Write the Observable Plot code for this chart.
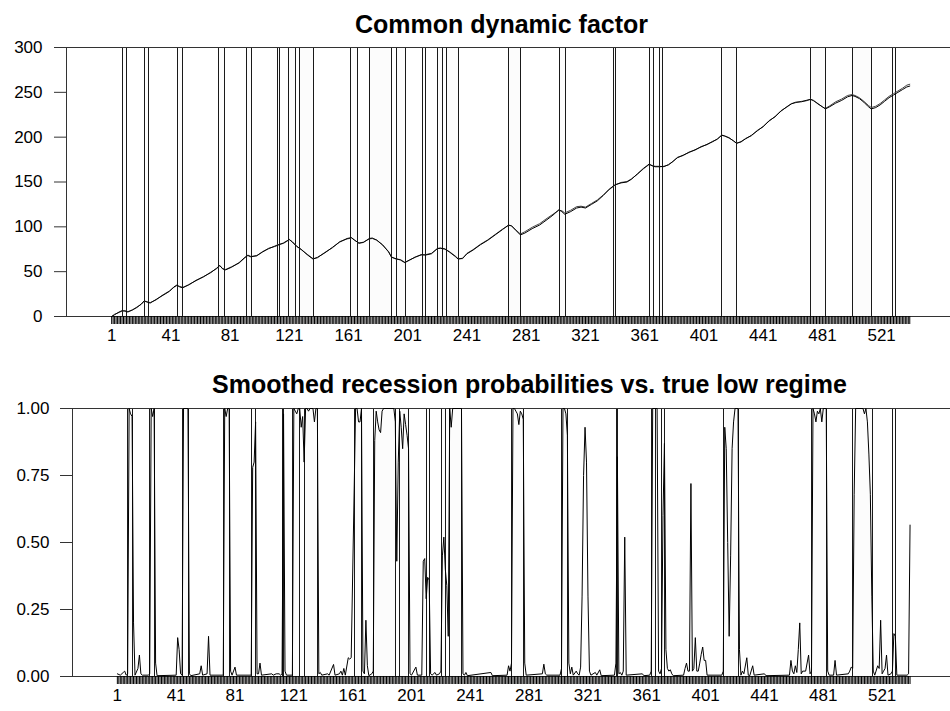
<!DOCTYPE html>
<html><head><meta charset="utf-8">
<script src="https://cdn.jsdelivr.net/npm/d3@7"></script>
<script src="https://cdn.jsdelivr.net/npm/@observablehq/plot@0.6"></script>
<style>
body{margin:0;background:#fff;}
#chart svg{display:block}
</style></head><body><div id="chart"></div>
<script>
// ---------- data ----------
const N = 540; // number of observations
const xTickLabels = [1, 41, 81, 121, 161, 201, 241, 281, 321, 361, 401, 441, 481, 521];
const factorTicks = [0, 50, 100, 150, 200, 250, 300];
const probTicks = [0, 0.25, 0.5, 0.75, 1];
const titles = ["Common dynamic factor", "Smoothed recession probabilities vs. true low regime"];

// true low-regime periods (first and last observation)
const regimeStart = [9, 24, 46, 74, 93, 114, 121, 129, 163, 176, 194, 212, 222, 228, 270, 304, 341, 365, 372, 414, 474, 502, 529];
const regimeEnd   = [11, 26, 49, 77, 95, 114, 125, 137, 167, 190, 199, 213, 224, 235, 277, 307, 341, 367, 373, 423, 483, 514, 530];

// common dynamic factor: observation, true factor, estimated factor
const factorObs = [1,3,6,8,10,12,15,18,21,23,25,27,31,35,40,43,45,47,49,53,58,63,68,72,74,76,78,82,87,91,93,95,99,103,107,111,114,117,120,121,123,126,129,133,137,140,145,150,155,160,163,165,168,171,175,177,180,184,188,190,193,196,199,202,206,210,213,217,221,223,226,229,233,235,238,241,245,250,255,260,265,269,271,274,277,280,285,290,295,299,303,305,307,311,315,318,321,325,329,333,337,341,345,349,352,356,360,364,366,368,371,374,377,380,383,387,391,395,399,403,407,410,413,415,418,421,423,426,429,433,437,441,445,449,453,457,460,463,467,470,473,475,478,481,483,486,490,494,498,501,503,506,509,512,514,517,520,523,526,529,532,535,538,540];
const factorTrue = [0,2,5,6.5,6,5,7.5,10,14,17.5,16,15,19,23,28,33,35,33,32,35.5,40,44.5,49,54,57,53,52,55,60,66,68,66.5,68,72,76,78,80,82,85,86,83,78,75,69,64,66,71,77,83,87,88,85,82,82.5,87,87.5,85,80,72,66,64.5,63,60,63,66,69,68.5,70,76,76,75.5,72,67,64,65,70,74,80,85,91,97,102,101,96,91,93,98,102,108,113,119,117,114,117,121,122,121,125,129,135,142,147,149,150,153,159,165,170,168,167,167,167.5,169,173,177,180,183,186,189,192,195,198,202,201.5,199,196,193,195,198,202,207,212,218,223,229,234,237,239,239.5,241,242,241,237,234,231.5,234,238,241,245,246.5,245.5,243,239,234,231.5,233,236,240,244,247,250,253,256,257];
const factorEst = [0,2.5,4.5,6,6.5,5.5,7,10.5,13.5,17,16.5,15.5,18.5,23.5,28.5,32.5,34.5,33.5,32.5,35,40.5,44,49.5,53.5,56.5,53.5,52.5,55.5,59.5,65.5,68.5,67,67.5,72.5,75.5,78.5,80.5,81.5,84.5,85.5,83.5,78.5,74.5,69.5,64.5,65.5,71.5,76.5,83.5,86.5,87.5,85.5,81.5,83,86.5,87,85.5,79.5,72.5,66.5,64,63.5,60.5,62.5,66.5,68.5,69,70.5,75.5,76.5,75,72.5,67.5,64.5,64.5,70.5,74.5,80.5,85.5,91.5,97.5,101.5,101.5,96.5,92,94.5,99.5,103.5,109.5,114,118.5,118,115.5,118.5,122.5,123,122,126,130,135.5,141.5,146.5,149.5,150.5,153.5,158.5,164.5,169.5,168.5,167.5,167.5,167,169.5,172.5,177.5,179.5,183.5,185.5,189.5,191.5,195.5,197.5,202.5,201,199.5,195.5,193.5,194.5,198.5,201.5,207.5,211.5,218.5,222.5,229.5,233.5,237.5,238.5,240,240.5,242.5,240.5,237.5,233.5,232,235,239.5,242.5,246.5,247.5,246.5,244,240,235.5,233,234.5,237.5,241.5,245.5,248.5,251.5,254.5,258,259];

// smoothed recession probability: [observation, probability]
const recessionProb = [[1,.01],[3,.005],[5,.015],[6,.02],[7,.005],[8,.01],[9,1],[10,.98],[11,.97],[12,.2],[13,.005],[15,.03],[16,.08],[17,.01],[18,.005],[22,.005],[23,.01],[24,1],[25,.97],[26,1],[27,.05],[28,.003],
[41,.005],[42,.145],[43,.1],[44,.01],[45,.005],[46,1],[49,1],[50,.01],[51,.003],[57,.01],[58,.04],[59,.005],[62,.01],[63,.15],[64,.005],
[73,.005],[74,1],[75,.97],[76,1],[77,1],[78,.02],[79,.005],[81,.035],[82,.005],
[92,.005],[93,.78],[94,.8],[95,.95],[96,.01],[97,.01],[98,.05],[99,.005],
[106,.01],[107,.005],[109,.01],[111,.01],[112,.005],[113,.01],[114,.98],[115,.02],[116,.005],
[120,.005],[121,1],[122,.99],[123,.98],[124,1],[125,1],[126,.93],[127,.97],[128,.8],[129,1],[130,1],[131,.99],[132,1],[134,1],[135,.95],[136,1],[137,1],[138,.01],[139,.015],[140,.005],[144,.01],[145,.005],[148,.045],[149,.005],[152,.01],[153,.02],[154,.005],[155,.03],[156,.005],[158,.07],[159,.065],[160,.07],
[163,1],[164,1],[165,.95],[166,.95],[167,1],[168,.02],[169,.01],[170,.21],[171,.04],[172,.003],[174,.01],[175,.02],[176,.88],[177,.99],[178,.95],[179,.92],[180,.91],[181,.99],[182,1],[189,1],[190,.95],[191,.43],[192,.8],[193,.99],[194,.93],[195,.85],[196,.98],[197,.94],[198,.9],[199,.85],[200,.01],[201,.005],[204,.035],[205,.005],
[208,.005],[209,.43],[210,.44],[211,.29],[212,.37],[213,.36],[214,.01],[215,.005],[217,.015],[218,.005],[220,.01],[221,.02],[222,.45],[223,.52],[224,.4],[225,.34],[226,.15],[227,1],[228,.93],[229,1],[235,1],[236,.01],[237,.005],[238,.015],[239,.003],
[255,.015],[256,.003],[266,.005],[267,.04],[268,.02],[269,.05],[270,1],[271,1],[272,.99],[273,.98],[274,.94],[275,.99],[276,.98],[277,.96],[278,.05],[279,.005],
[290,.01],[291,.046],[292,.01],[293,.005],
[302,.005],[303,.03],[304,1],[305,1],[306,.98],[307,.9],[308,.05],[309,.01],[310,.035],[311,.005],[313,.02],[314,.01],[315,.005],[316,.035],[317,.3],[318,.75],[319,.93],[320,.8],[321,.3],[322,.02],[323,.005],[326,.015],[327,.005],[329,.025],[330,.003],
[339,.005],[340,.05],[341,.82],[342,.01],[343,.015],[344,.005],[345,.02],[346,.52],[347,.005],[358,.01],[359,.003],
[363,.005],[364,.02],[365,1],[368,1],[369,.02],[370,.01],[371,.03],[372,.6],[373,.87],[374,.1],[375,.03],[376,.02],[377,.025],[378,.01],[379,.003],
[386,.005],[387,.03],[388,.05],[389,.02],[390,.02],[391,.72],[392,.02],[393,.03],[394,.145],[395,.02],[396,.02],[397,.05],[398,.083],[399,.11],[400,.06],[401,.06],[402,.005],
[412,.005],[413,.02],[414,.93],[415,.85],[416,.5],[417,.15],[418,.45],[419,.85],[420,.95],[421,1],[423,1],[424,.1],[425,.005],[426,.02],[427,.01],[429,.07],[430,.005],[431,.003],[433,.04],[434,.005],[441,.01],[442,.003],
[458,.005],[459,.06],[460,.02],[461,.01],[462,.04],[463,.015],[464,.1],[465,.2],[466,.01],[467,.02],[469,.02],[471,.08],[472,.01],[473,.02],[474,1],[475,.98],[476,.95],[477,.99],[478,.98],[479,1],[480,.95],[481,1],[483,1],[484,.02],[485,.005],[488,.005],[489,.06],[490,.005],
[498,.01],[499,.02],[500,.035],[501,.03],[502,.68],[503,1],[508,1],[509,.98],[510,1],[511,.95],[512,.83],[513,.68],[514,.3],[515,.02],[516,.005],[518,.04],[519,.03],[520,.21],[521,.01],[522,.02],[523,.03],[524,.08],[525,.005],[527,.01],[528,.02],[529,.16],[530,.15],[531,.005],[538,.005],[539,.01],[540,.565]];

// ---------- derived tables ----------
const regimes = regimeStart.map((s, i) => ({start: s, end: regimeEnd[i]}));
const factorTable = factorObs.map((o, i) => ({obs: o, truth: factorTrue[i], est: factorEst[i]}));
const probTable = recessionProb.map(([o, p]) => ({obs: o, p}));
const allObs = d3.range(1, N + 1);
const xDomain = [-29.5, 567.5];

const font = "'Liberation Sans', Arial, Helvetica, sans-serif";
const axisColor = "#333";

function panel({height, marginTop, marginBottom, marginLeft, yDomain, yTicks, yFormat, tickPadY, title, titleDx, titleDy, series}) {
  return Plot.plot({
    width: 950, height, marginTop, marginBottom, marginLeft, marginRight: 0,
    x: {domain: xDomain},
    y: {domain: yDomain},
    style: {fontSize: "17px", fontFamily: font, color: "#000", background: "#fff", overflow: "visible"},
    marks: [
      Plot.rect(regimes, {x1: d => d.start - 0.5, x2: d => d.end + 0.5, fill: "#fcfcfc", stroke: "#1a1a1a", strokeWidth: 1, shapeRendering: "crispEdges"}),
      Plot.frame({anchor: "top", stroke: axisColor}),
      Plot.frame({anchor: "bottom", stroke: axisColor}),
      Plot.frame({anchor: "left", stroke: axisColor}),
      ...series,
      Plot.axisY({ticks: yTicks, tickFormat: yFormat, tickSize: 12, tickPadding: tickPadY, label: null, stroke: axisColor}),
      Plot.axisX({ticks: allObs, tickFormat: () => "", tickSize: 8, label: null, stroke: "#000", strokeWidth: 1}),
      Plot.axisX({ticks: xTickLabels, tickFormat: d => String(d), tickSize: 0, tickPadding: 12, label: null}),
      Plot.text([title], {frameAnchor: "top", lineAnchor: "bottom", dx: titleDx, dy: titleDy, text: d => d, fontSize: 25, fontWeight: "bold", fill: "#000"})
    ]
  });
}

const topPanel = panel({
  height: 350, marginTop: 47, marginBottom: 34, marginLeft: 66,
  yDomain: [factorTicks[0], factorTicks[factorTicks.length - 1]], yTicks: factorTicks, yFormat: d => String(d), tickPadY: 12,
  title: titles[0], titleDx: -7, titleDy: -15,
  series: [
    Plot.line(factorTable, {x: "obs", y: "est", stroke: "#444", strokeWidth: 1}),
    Plot.line(factorTable, {x: "obs", y: "truth", stroke: "#000", strokeWidth: 1})
  ]
});

const bottomPanel = panel({
  height: 361, marginTop: 58, marginBottom: 35, marginLeft: 72,
  yDomain: [probTicks[0], probTicks[probTicks.length - 1]], yTicks: probTicks, yFormat: d3.format(".2f"), tickPadY: 11,
  title: titles[1], titleDx: 18, titleDy: -16,
  series: [
    Plot.line(probTable, {x: "obs", y: "p", stroke: "#000", strokeWidth: 1})
  ]
});

document.getElementById("chart").append(topPanel, bottomPanel);
</script></body></html>
